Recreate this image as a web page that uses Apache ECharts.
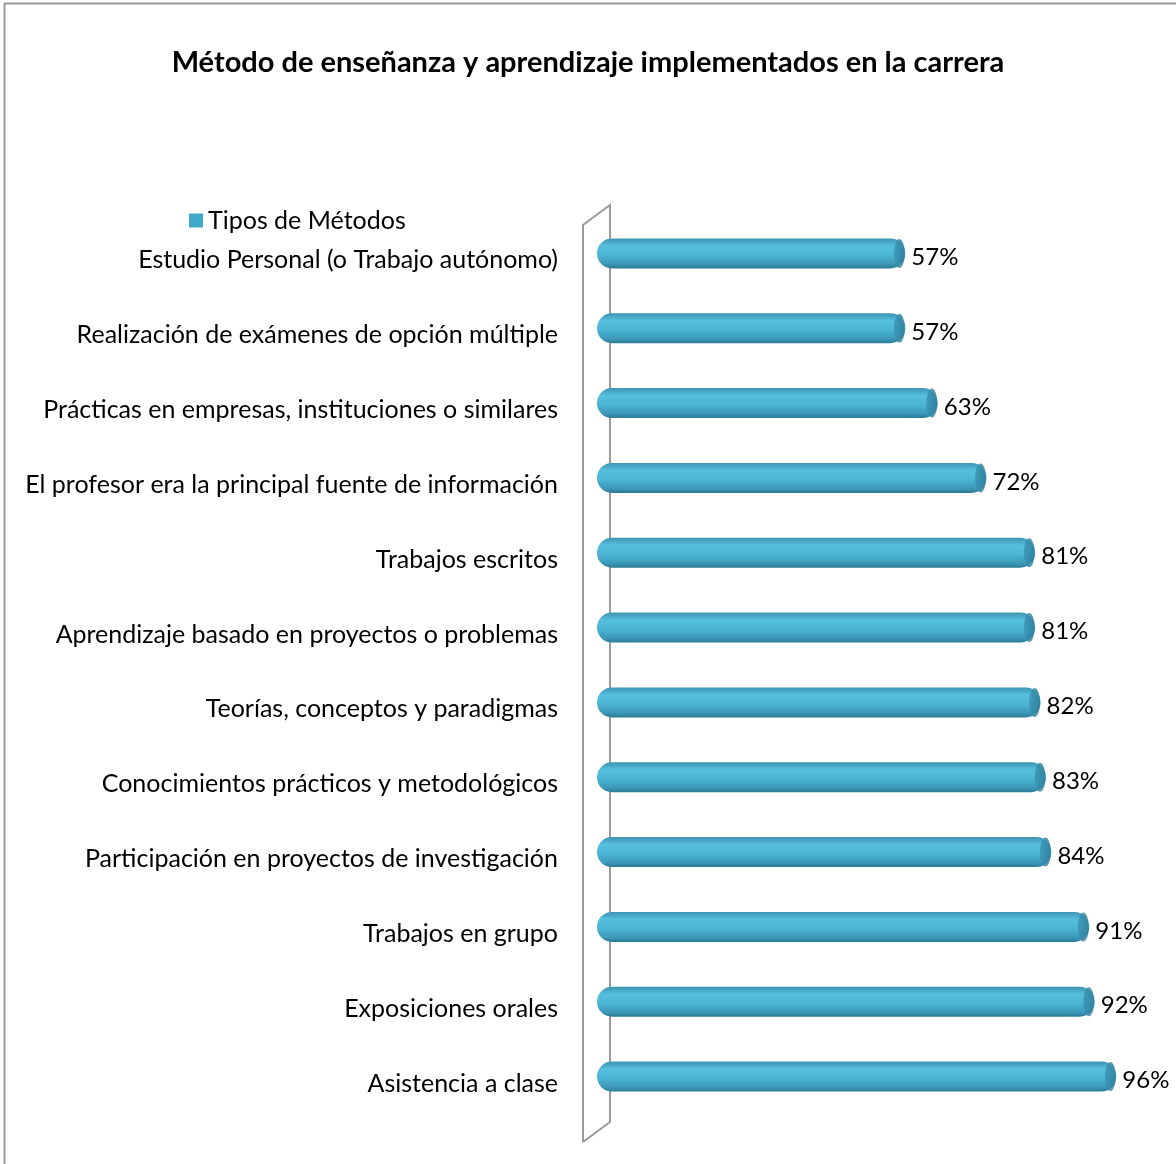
<!DOCTYPE html>
<html><head><meta charset="utf-8">
<script src="https://cdn.jsdelivr.net/npm/echarts@6/dist/echarts.min.js"></script>
<style>html,body{margin:0;padding:0;background:#fff}#c{width:1176px;height:1164px}</style>
</head><body><div id="c"></div>
<script>
var titleText = 'Método de enseñanza y aprendizaje implementados en la carrera';
var seriesName = 'Tipos de Métodos';
var categories = [
  'Estudio Personal (o Trabajo autónomo)',
  'Realización de exámenes de opción múltiple',
  'Prácticas en empresas, instituciones o similares',
  'El profesor era la principal fuente de información',
  'Trabajos escritos',
  'Aprendizaje basado en proyectos o problemas',
  'Teorías, conceptos y paradigmas',
  'Conocimientos prácticos y metodológicos',
  'Participación en proyectos de investigación',
  'Trabajos en grupo',
  'Exposiciones orales',
  'Asistencia a clase'
];
var values = [57, 57, 63, 72, 81, 81, 82, 83, 84, 91, 92, 96];

var FONT = 'Lato, "Liberation Sans", sans-serif';
var chart = echarts.init(document.getElementById('c'), null, {renderer: 'canvas'});
var barGrad = new echarts.graphic.LinearGradient(0, 0, 0, 1, [
  {offset: 0, color: '#3d93b2'},
  {offset: 0.25, color: '#55bfdd'},
  {offset: 0.55, color: '#4cb5d5'},
  {offset: 0.85, color: '#3b98b8'},
  {offset: 1, color: '#2c7a96'}
]);
var capGrad = new echarts.graphic.LinearGradient(0, 0, 1, 0, [
  {offset: 0, color: '#3a94b4'},
  {offset: 1, color: '#2b7893'}
]);
chart.setOption({
  animation: false,
  backgroundColor: '#ffffff',
  title: {
    text: titleText, left: 'center', top: 43,
    textStyle: {fontFamily: FONT, fontWeight: 'bold', fontSize: 29, color: '#000'}
  },
  legend: {
    left: 184, top: 203, itemWidth: 14, itemHeight: 14, itemGap: 4,
    icon: 'rect',
    data: [{name: seriesName, itemStyle: {color: '#3fa9c9'}}],
    textStyle: {fontFamily: FONT, fontSize: 25, color: '#000'}
  },
  grid: {left: 597, width: 541, top: 216, height: 898, containLabel: false},
  xAxis: {type: 'value', min: 0, max: 100, show: false},
  yAxis: {
    type: 'category', data: categories, inverse: true,
    axisLine: {show: false}, axisTick: {show: false},
    axisLabel: {margin: 39, fontFamily: FONT, fontSize: 25, color: '#000', verticalAlign: 'top', lineHeight: 14}
  },
  graphic: [
    {type: 'rect', shape: {x: 4.5, y: 3.5, width: 1180, height: 1180}, style: {fill: 'none', stroke: '#9a9a9a', lineWidth: 2}, silent: true},
    {type: 'polyline', shape: {points: [[583, 1142], [583, 225], [610, 205], [610, 1122], [583, 1142]]}, style: {fill: 'none', stroke: '#9b9b9b', lineWidth: 2}, silent: true, z: 0}
  ],
  series: [
    {
      name: seriesName, type: 'bar', data: values, barWidth: 30, z: 2,
      itemStyle: {color: barGrad, borderRadius: 15},
      label: {show: true, position: 'right', distance: 6, formatter: '{c}%', fontFamily: FONT, fontSize: 24, color: '#000', verticalAlign: 'top', lineHeight: 8}
    },
    {
      name: 'cap', type: 'scatter', z: 3, silent: true,
      data: values.map(function (v, i) { return [v, i]; }),
      symbol: 'circle', symbolSize: [11, 29], symbolOffset: [-6, 0],
      itemStyle: {color: capGrad}
    }
  ]
});
</script></body></html>
